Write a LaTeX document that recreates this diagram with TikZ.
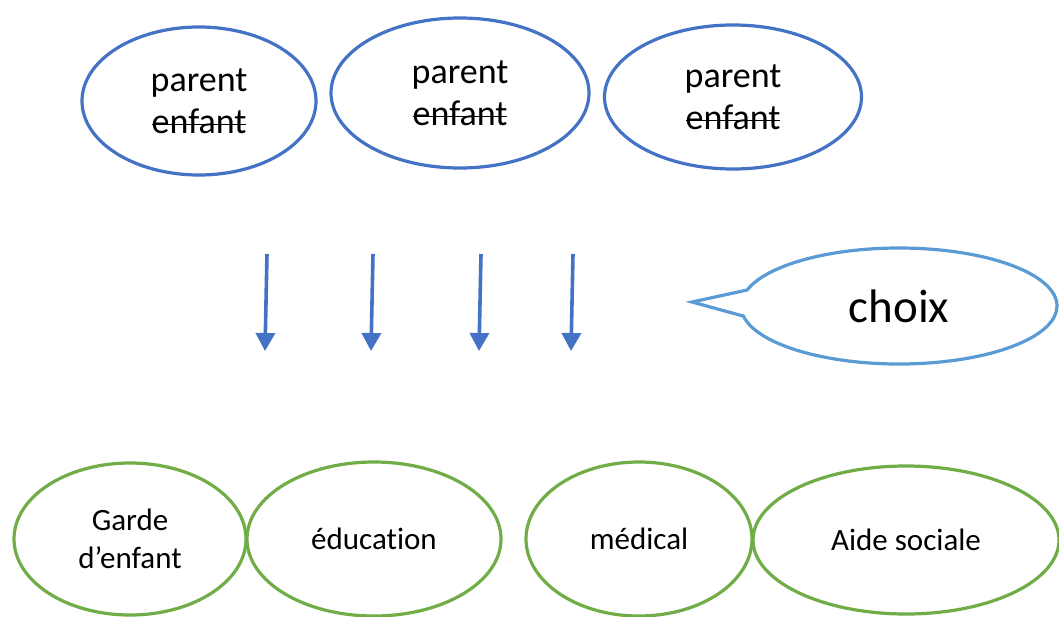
\documentclass[tikz,border=0pt]{standalone}
\usepackage{fontspec}
\setmainfont{Carlito}[RawFeature={-liga}]
\newcommand{\strk}[1]{\setbox0\hbox{#1}\rlap{\raisebox{0.22em}{\rule{\wd0}{1.8pt}}}\box0}
\usetikzlibrary{shapes.geometric,shapes.callouts,arrows.meta}
\definecolor{pblue}{HTML}{4472C4}
\definecolor{lblue}{HTML}{5B9BD5}
\definecolor{pgreen}{HTML}{70AD47}
\tikzset{
  topell/.style={ellipse, draw=pblue, line width=3.2pt, inner sep=0pt, align=center,
    font=\fontsize{36}{42}\selectfont},
  botell/.style={ellipse, draw=pgreen, line width=3.2pt, inner sep=0pt, align=center,
    font=\fontsize{31}{38}\selectfont},
  arr/.style={draw=pblue, line width=3.6pt, -{Triangle[length=18pt,width=19pt]}},
  callbox/.style={ellipse callout, draw=lblue, line width=3.2pt, inner sep=0pt,
    font=\fontsize{47}{54}\selectfont, callout pointer arc=26}
}
\begin{document}
\begin{tikzpicture}[x=1pt,y=-1pt]
\useasboundingbox[fill=white] (0,0) rectangle (1059,616);

% top ellipses
\node[topell, minimum width=234pt, minimum height=148pt] (p1) at (199,101) {parent\\\strk{enfant}};
\node[topell, minimum width=258pt, minimum height=150pt] (p2) at (460,93) {parent\\\strk{enfant}};
\node[topell, minimum width=257pt, minimum height=144pt] (p3) at (733,97) {parent\\\strk{enfant}};

% arrows
\coordinate (a1s) at (267,254); \coordinate (a1e) at (265,351);
\coordinate (a2s) at (373,254); \coordinate (a2e) at (371,351);
\coordinate (a3s) at (481,254); \coordinate (a3e) at (479,351);
\coordinate (a4s) at (573,254); \coordinate (a4e) at (571,351);
\draw[arr] (a1s) -- (a1e);
\draw[arr] (a2s) -- (a2e);
\draw[arr] (a3s) -- (a3e);
\draw[arr] (a4s) -- (a4e);

% callout
\node[callbox, minimum width=316pt, minimum height=116pt,
  callout absolute pointer={(692,302)}] (ch) at (899,306) {choix};

% bottom ellipses
\node[botell, minimum width=232pt, minimum height=152pt] (b1) at (130,539) {Garde\\d’enfant};
\node[botell, minimum width=254pt, minimum height=154pt] (b2) at (374,539) {éducation};
\node[botell, minimum width=226pt, minimum height=154pt] (b3) at (639,539) {médical};
\node[botell, minimum width=306pt, minimum height=148pt] (b4) at (906,540) {Aide sociale};
\end{tikzpicture}
\end{document}
